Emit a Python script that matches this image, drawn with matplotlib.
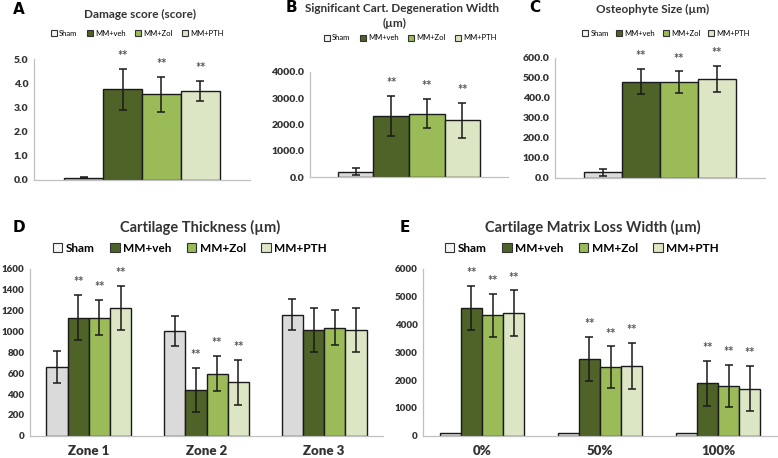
import numpy as np
import matplotlib
matplotlib.use("Agg")
import matplotlib.pyplot as plt
from matplotlib.patches import Patch

plt.rcParams['font.family'] = ['Lato', 'DejaVu Sans']

groups = ["Sham", "MM+veh", "MM+Zol", "MM+PTH"]
colors = ["#dadada", "#4f6228", "#9bbb59", "#dce6c4"]

# A: damage score
dmg_mean = [0.08, 3.74, 3.54, 3.67]
dmg_err = [0.02, 0.85, 0.72, 0.42]
dmg_star = [0, 1, 1, 1]

# B: significant cartilage degeneration width
deg_mean = [220, 2340, 2420, 2160]
deg_err = [145, 757, 550, 680]
deg_star = [0, 1, 1, 1]

# C: osteophyte size
ost_mean = [27, 480, 476, 493]
ost_err = [18, 63, 55, 64]
ost_star = [0, 1, 1, 1]

# D: cartilage thickness by zone
zones = ["Zone 1", "Zone 2", "Zone 3"]
thk_mean = [
    [660, 1005, 1162],   # Sham
    [1133, 439, 1015],   # MM+veh
    [1133, 595, 1034],   # MM+Zol
    [1226, 512, 1015],   # MM+PTH
]
thk_err = [
    [150, 148, 148],
    [216, 215, 215],
    [168, 168, 168],
    [212, 216, 210],
]
thk_star = [
    [0, 0, 0],
    [1, 1, 0],
    [1, 1, 0],
    [1, 1, 0],
]

# E: cartilage matrix loss width
depths = ["0%", "50%", "100%"]
loss_mean = [
    [80, 80, 80],
    [4600, 2760, 1886],
    [4330, 2462, 1790],
    [4405, 2509, 1692],
]
loss_err = [
    [0, 0, 0],
    [786, 780, 800],
    [774, 750, 750],
    [822, 820, 820],
]
loss_star = [
    [0, 0, 0],
    [1, 1, 1],
    [1, 1, 1],
    [1, 1, 1],
]

W, H = 778, 458
fig = plt.figure(figsize=(W / 100, H / 100), dpi=100)


def add_ax(x0, y0, x1, y1):
    return fig.add_axes([x0 / W, 1 - y1 / H, (x1 - x0) / W, (y1 - y0) / H])


def style(ax, ymax, step, fmt, fs):
    ax.set_ylim(0, ymax)
    ax.set_yticks(np.arange(0, ymax + step / 2, step))
    ax.yaxis.set_major_formatter(plt.FormatStrFormatter(fmt))
    for s in ["top", "right"]:
        ax.spines[s].set_visible(False)
    for s in ["left", "bottom"]:
        ax.spines[s].set_color("#c0c0c0")
        ax.spines[s].set_linewidth(0.9)
    ax.tick_params(length=0, labelsize=fs, labelcolor="#333333", pad=4)
    for lab in ax.get_yticklabels():
        lab.set_fontweight("heavy")


def draw(ax, means, errs, stars, ncat, bw=0.18):
    means = np.array(means, dtype=float)
    errs = np.array(errs, dtype=float)
    stars = np.array(stars)
    x = np.arange(ncat)
    for i in range(4):
        xi = x + (i - 1.5) * bw
        ax.bar(xi, means[i], bw, color=colors[i], edgecolor="#1a1a1a",
               linewidth=1.0, zorder=2)
        m = errs[i] > 0
        ax.errorbar(xi[m], means[i][m], yerr=errs[i][m], fmt="none",
                    ecolor="#1a1a1a", elinewidth=1.1, capsize=2.6,
                    capthick=1.1, zorder=3)
        for j in range(ncat):
            if stars[i][j]:
                ax.annotate("**", (xi[j], means[i][j] + errs[i][j]),
                            xytext=(0, 5), textcoords="offset points",
                            ha="center", va="bottom", fontsize=9,
                            fontweight="bold", color="#555555")
    ax.set_xlim(-0.5, ncat - 0.5)


def legend(cx, cy, fs, colsp, weight="normal"):
    handles = [Patch(facecolor=c if k else "#f4f4f4", edgecolor="#333333",
                     linewidth=0.8) for k, c in enumerate(colors)]
    fig.legend(handles, groups, loc="center", bbox_to_anchor=(cx / W, 1 - cy / H),
               ncol=4, frameon=False, handlelength=0.8,
               handleheight=0.8, handletextpad=0.3, columnspacing=colsp,
               borderpad=0, prop=dict(size=fs, weight=weight))


def col(a):
    return np.array(a)[:, None]


# Panel A
axA = add_ax(34, 59, 250, 179.5)
draw(axA, col(dmg_mean), col(dmg_err), col(dmg_star), 1)
style(axA, 5, 1, "%.1f", 7.5)
axA.set_xticks([])

# Panel B
axB = add_ax(310, 72, 508, 177.3)
draw(axB, col(deg_mean), col(deg_err), col(deg_star), 1)
style(axB, 4000, 1000, "%.1f", 7.5)
axB.set_xticks([])

# Panel C
axC = add_ax(555, 57.7, 765, 177.7)
draw(axC, col(ost_mean), col(ost_err), col(ost_star), 1)
style(axC, 600, 100, "%.1f", 7.5)
axC.set_xticks([])

# Panel D
axD = add_ax(30, 269, 383, 435.7)
draw(axD, thk_mean, thk_err, thk_star, 3)
style(axD, 1600, 200, "%d", 7)
axD.set_xticks(range(3))
axD.set_xticklabels(zones, fontsize=9.5, fontweight="heavy", color="#333333")
axD.tick_params(axis="x", pad=7)

# Panel E
axE = add_ax(423, 269, 777, 435.7)
draw(axE, loss_mean, loss_err, loss_star, 3)
style(axE, 6000, 1000, "%d", 7)
axE.set_xticks(range(3))
axE.set_xticklabels(depths, fontsize=9.5, fontweight="heavy", color="#333333")
axE.tick_params(axis="x", pad=7)


# titles and panel letters
def ftext(x, y, s, **kw):
    fig.text(x / W, 1 - y / H, s, ha="center", va="center", **kw)


tkw = dict(fontweight="bold", color="#333333")
ftext(140, 14, "Damage score (score)", fontsize=8.5, **tkw)
ftext(402, 8, "Significant Cart. Degeneration Width", fontsize=8.5, **tkw)
ftext(395, 23, "(µm)", fontsize=8.5, **tkw)
ftext(653, 9, "Osteophyte Size (µm)", fontsize=8.5, **tkw)
ftext(200, 227, "Cartilage Thickness (µm)", fontsize=10.5, **tkw)
ftext(593, 227, "Cartilage Matrix Loss Width (µm)", fontsize=10.5, **tkw)

lkw = dict(fontweight="bold", color="black", family="DejaVu Sans")
ftext(19, 10, "A", fontsize=11, **lkw)
ftext(291, 8, "B", fontsize=11, **lkw)
ftext(535, 8, "C", fontsize=11, **lkw)
ftext(19, 227, "D", fontsize=11, **lkw)
ftext(405, 227, "E", fontsize=11, **lkw)

legend(137, 33, 5.5, 1.2)
legend(410, 38, 5.5, 1.2)
legend(666, 33, 5.5, 1.0)
legend(190, 248, 8.5, 1.3, "bold")
legend(582, 248, 8.5, 1.3, "bold")

fig.savefig("out.png", dpi=100)
